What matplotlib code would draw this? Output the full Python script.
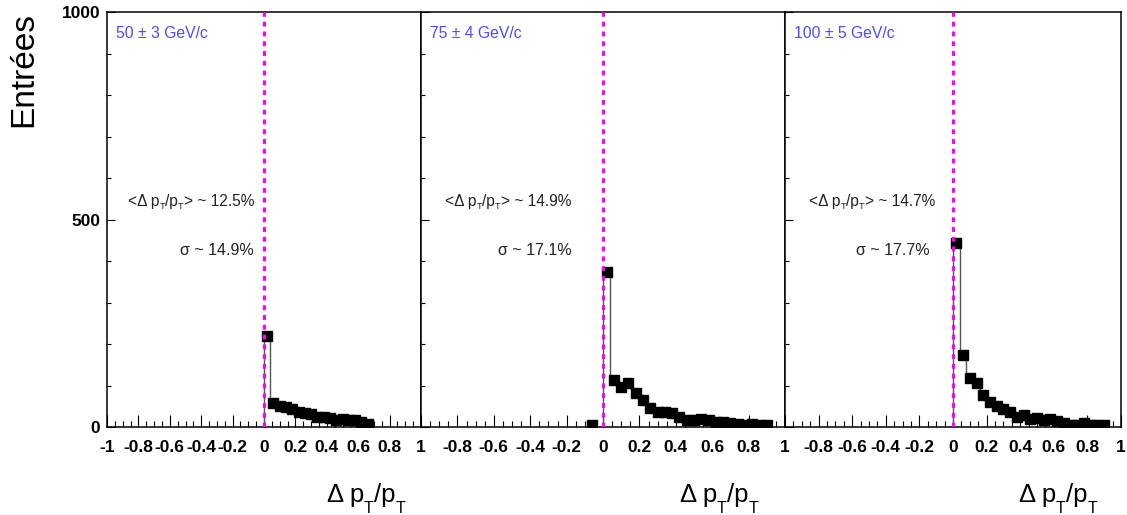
import numpy as np
import matplotlib
matplotlib.use("Agg")
import matplotlib.pyplot as plt
from matplotlib.ticker import MultipleLocator, FixedLocator

plt.rcParams['font.family'] = ['Liberation Sans', 'DejaVu Sans']
plt.rcParams['mathtext.default'] = 'regular'

# ---- data ----
bin_width = 0.04
p1_centers = [0.02, 0.06, 0.10, 0.14, 0.18, 0.22, 0.26, 0.30, 0.34, 0.38, 0.42,
              0.46, 0.50, 0.54, 0.58, 0.62, 0.66]
p1_counts = [219, 58, 50, 47, 43, 37, 33, 31, 25, 23, 21, 17, 20, 17, 16, 12, 8]

p2_centers = [-0.06, -0.02, 0.02, 0.06, 0.10, 0.14, 0.18, 0.22, 0.26, 0.30, 0.34,
              0.38, 0.42, 0.46, 0.50, 0.54, 0.58, 0.62, 0.66, 0.70, 0.74, 0.78,
              0.82, 0.86, 0.90]
p2_counts = [5, 0, 374, 113, 97, 105, 81, 65, 45, 35, 35, 33, 25, 17, 16, 19, 17,
             13, 13, 10, 8, 6, 8, 6, 6]

p3_centers = [0.02, 0.06, 0.10, 0.14, 0.18, 0.22, 0.26, 0.30, 0.34, 0.38, 0.42,
              0.46, 0.50, 0.54, 0.58, 0.62, 0.66, 0.70, 0.74, 0.78, 0.82, 0.86, 0.90]
p3_counts = [443, 173, 118, 106, 77, 61, 51, 43, 37, 25, 29, 20, 21, 18, 20, 15,
             10, 6, 6, 9, 5, 5, 4]

energy_labels = ['50 \u00b1 3 GeV/c', '75 \u00b1 4 GeV/c', '100 \u00b1 5 GeV/c']
mean_labels = ['12.5%', '14.9%', '14.7%']
sigma_labels = ['14.9%', '17.1%', '17.7%']
y_ticks = [0, 500, 1000]

panels = [(p1_centers, p1_counts), (p2_centers, p2_counts), (p3_centers, p3_counts)]

W, H = 1127, 515
fig = plt.figure(figsize=(W / 100, H / 100), dpi=100)
renderer = fig.canvas.get_renderer()


def seq_text(x_right_px, y_base_px, segs, size, color='black'):
    """Lay out text segments left to right, right-aligned at x_right_px.
    segs: list of (string, size_scale, baseline_drop_px)."""
    widths = []
    for s, sc, dy in segs:
        t = fig.text(0, 0, s, fontsize=size * sc)
        widths.append(t.get_window_extent(renderer).width)
        t.remove()
    x = x_right_px - sum(widths)
    for (s, sc, dy), w in zip(segs, widths):
        fig.text(x / W, 1 - (y_base_px + dy) / H, s, fontsize=size * sc,
                 ha='left', va='baseline', color=color)
        x += w


# pixel frames (left, right)
frames = [(107, 421), (421, 785), (785, 1121)]
top_px, bot_px = 12, 427
mean_right = [254, 571, 935]
sigma_right = [254, 572, 930]
xlabel_right = [405, 758, 1097]

for i, ((l, r), (cen, cnt)) in enumerate(zip(frames, panels)):
    ax = fig.add_axes([l / W, 1 - bot_px / H, (r - l) / W, (bot_px - top_px) / H])
    cen = np.array(cen)
    cnt = np.array(cnt)
    edges = np.append(cen - bin_width / 2, cen[-1] + bin_width / 2)
    ax.stairs(cnt, edges, color='#555555', lw=1.0, baseline=0, zorder=2)
    m = cnt > 0
    ax.plot(cen[m], cnt[m], 's', color='black', ms=6.8, zorder=3)
    ax.axvline(0, color='#ff00ff', lw=2.2, dashes=(1.6, 1.6), zorder=4)

    ax.set_xlim(-1, 1)
    ax.set_ylim(0, 1000)
    for s in ax.spines.values():
        s.set_linewidth(1.1)
    ax.xaxis.set_minor_locator(MultipleLocator(0.05))
    ax.yaxis.set_major_locator(FixedLocator(y_ticks))
    ax.yaxis.set_minor_locator(MultipleLocator(100))
    ax.tick_params(axis='x', which='major', direction='in', length=9, width=0.8,
                   pad=9, labelsize=12.5)
    ax.tick_params(axis='x', which='minor', direction='in', length=4.5, width=0.8)
    ax.tick_params(axis='y', which='major', direction='in', length=6, width=0.8,
                   pad=5, labelsize=12.5)
    ax.tick_params(axis='y', which='minor', direction='in', length=3, width=0.8)

    xt = np.round(np.arange(-1, 1.0001, 0.2), 1)
    ax.set_xticks(xt)
    labs = []
    for v in xt:
        if i > 0 and v == -1:
            labs.append('')
        elif v == 0:
            labs.append('0')
        elif abs(v) == 1:
            labs.append('%d' % v)
        else:
            labs.append('%g' % v)
    ax.set_xticklabels(labs, fontweight='bold')
    if i == 0:
        ax.set_yticklabels([str(v) for v in y_ticks], fontweight='bold')
    else:
        ax.set_yticklabels([])

    # energy label
    fig.text((l + 9) / W, 1 - 33 / H, energy_labels[i], color='#4b4bff',
             fontsize=11.3, ha='left', va='center')
    seq_text(mean_right[i], 206,
             [('<\u0394 p', 1, 0), ('T', 0.6, 3), ('/p', 1, 0), ('T', 0.6, 3),
              ('> ~ ' + mean_labels[i], 1, 0)], 11.2, '#222222')
    seq_text(sigma_right[i], 255, [('\u03c3 ~ ' + sigma_labels[i], 1, 0)],
             11.5, '#222222')
    seq_text(xlabel_right[i], 502,
             [('\u0394 p', 1, 0), ('T', 0.62, 11), ('/p', 1, 0), ('T', 0.62, 11)],
             18.5)

fig.text(24 / W, 1 - 12 / H, 'Entrées', rotation=90, fontsize=24,
         ha='center', va='top')

fig.savefig('out.png', dpi=100)
